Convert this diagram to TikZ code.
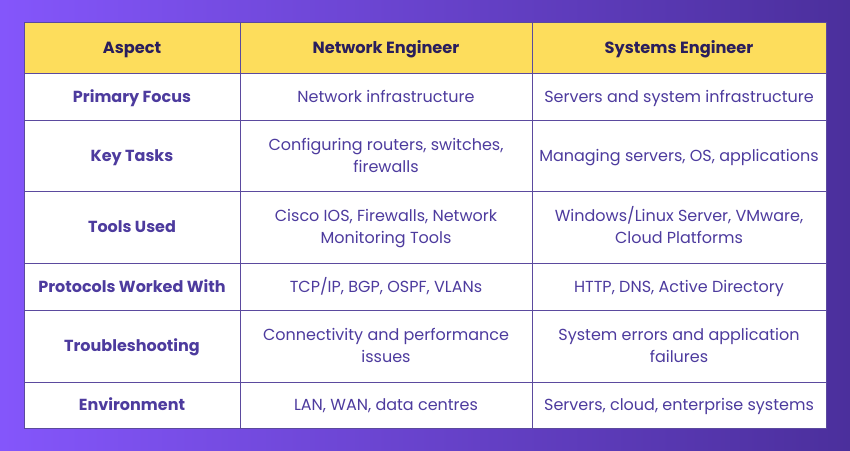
\documentclass[tikz,border=0pt]{standalone}
\usepackage{fontspec}
\setmainfont{Poppins}
\begin{document}
\definecolor{bgA}{HTML}{7E4DFB}
\definecolor{bgB}{HTML}{4B2F9C}
\definecolor{hdr}{HTML}{FDDD5C}
\definecolor{grid}{HTML}{5B4A9E}
\definecolor{htxt}{HTML}{2A1E5C}
\definecolor{btxt}{HTML}{4D3B9E}
\begin{tikzpicture}[x=1pt,y=-1pt,
  head/.style={font=\fontsize{16.2}{20}\selectfont\bfseries,text=htxt,align=center,anchor=base},
  asp/.style={font=\fontsize{16}{22}\selectfont\bfseries,text=btxt,align=center,anchor=base},
  cell/.style={font=\fontsize{16}{22}\selectfont,text=btxt,align=center,anchor=base}]
\fill[left color=bgA!95!white,right color=bgB] (0,0) rectangle (850,450);
\fill[hdr] (24,22) rectangle (826,73);
\fill[white] (24,73) rectangle (826,428);
\draw[grid,line width=0.8pt] (24,22) rectangle (826,428);
\foreach \y in {73,120,191,263,310,382} \draw[grid,line width=0.8pt] (24,\y) -- (826,\y);
\foreach \x in {240,532} \draw[grid,line width=0.8pt] (\x,22) -- (\x,428);
\node[head] (h1) at (132,53) {Aspect};
\node[head] (h2) at (386,53) {Network Engineer};
\node[head] (h3) at (679,53) {Systems Engineer};
\node[asp] (a1) at (132,102) {Primary Focus};
\node[asp] (a2) at (132,161) {Key Tasks};
\node[asp] (a3) at (132,232.5) {Tools Used};
\node[asp] (a4) at (132,292) {Protocols Worked With};
\node[asp] (a5) at (132,351.5) {Troubleshooting};
\node[asp] (a6) at (132,410.5) {Environment};
\node[cell] (n1) at (386,102) {Network infrastructure};
\node[cell] (n2) at (386,172) {Configuring routers, switches,\\firewalls};
\node[cell] (n3) at (386,243.5) {Cisco IOS, Firewalls, Network\\Monitoring Tools};
\node[cell] (n4) at (386,292) {TCP/IP, BGP, OSPF, VLANs};
\node[cell] (n5) at (386,362.5) {Connectivity and performance\\issues};
\node[cell] (n6) at (386,410.5) {LAN, WAN, data centres};
\node[cell] (s1) at (679,102) {Servers and system infrastructure};
\node[cell] (s2) at (679,161) {Managing servers, OS, applications};
\node[cell] (s3) at (679,243.5) {Windows/Linux Server, VMware,\\Cloud Platforms};
\node[cell] (s4) at (679,292) {HTTP, DNS, Active Directory};
\node[cell] (s5) at (679,362.5) {System errors and application\\failures};
\node[cell] (s6) at (679,410.5) {Servers, cloud, enterprise systems};
\end{tikzpicture}
\end{document}
